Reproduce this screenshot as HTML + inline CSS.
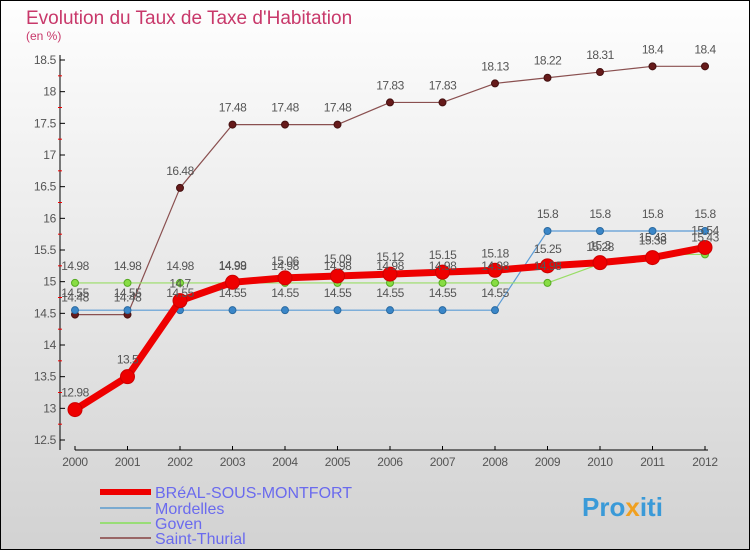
<!DOCTYPE html>
<html><head><meta charset="utf-8"><style>
body{margin:0}
svg text{font-family:"Liberation Sans",sans-serif}
</style></head><body>
<svg id="c" width="750" height="550" xmlns="http://www.w3.org/2000/svg">
<defs><linearGradient id="bg" x1="0" y1="0" x2="0" y2="1"><stop offset="0" stop-color="#fefefe"/><stop offset="1" stop-color="#d2d2d2"/></linearGradient></defs>
<rect x="0.5" y="0.5" width="749" height="549" fill="url(#bg)" stroke="#000"/>
<text x="26" y="24" font-size="19" font-weight="normal" fill="#c8386a">Evolution du Taux de Taxe d'Habitation</text>
<text x="26" y="40" font-size="12" fill="#c8386a">(en %)</text>
<g id="axes"></g><g id="series"></g><g id="labels"></g>
<g>
<line x1="100" y1="492" x2="151" y2="492" stroke="#ee0000" stroke-width="6"/>
<text x="155" y="498" font-size="16" fill="#6a6aee">BRéAL-SOUS-MONTFORT</text>
<line x1="100" y1="508" x2="151" y2="508" stroke="#7aaad0" stroke-width="2"/>
<text x="155" y="514" font-size="16" fill="#6a6aee">Mordelles</text>
<line x1="100" y1="523" x2="151" y2="523" stroke="#99dd77" stroke-width="2"/>
<text x="155" y="529" font-size="16" fill="#6a6aee">Goven</text>
<line x1="100" y1="538" x2="151" y2="538" stroke="#996666" stroke-width="2"/>
<text x="155" y="544" font-size="16" fill="#6a6aee">Saint-Thurial</text>
</g>
<text x="582" y="516" font-size="26" font-weight="bold" fill="#3a9ad8">Pro<tspan fill="#f0a020">x</tspan>iti</text>
</svg>
<script>
const years=[2000,2001,2002,2003,2004,2005,2006,2007,2008,2009,2010,2011,2012];
const yTicks=[12.5,13,13.5,14,14.5,15,15.5,16,16.5,17,17.5,18,18.5];
const breal=[12.98,13.5,14.7,14.99,15.06,15.09,15.12,15.15,15.18,15.25,15.3,15.38,15.54];
const mordelles=[14.55,14.55,14.55,14.55,14.55,14.55,14.55,14.55,14.55,15.8,15.8,15.8,15.8];
const goven=[14.98,14.98,14.98,14.98,14.98,14.98,14.98,14.98,14.98,14.98,15.28,15.43,15.43];
const thurial=[14.48,14.48,16.48,17.48,17.48,17.48,17.83,17.83,18.13,18.22,18.31,18.4,18.4];
const NS='http://www.w3.org/2000/svg';
function X(i){return 75+i*52.5;}
function Y(v){return 440-(v-12.5)*63.333;}
function mk(t,a,p){const e=document.createElementNS(NS,t);for(const k in a)e.setAttribute(k,a[k]);p.appendChild(e);return e;}
const ax=document.getElementById('axes'),se=document.getElementById('series'),lb=document.getElementById('labels');
let yl=mk('line',{x1:60,y1:55,x2:60,y2:450,stroke:'#000'},ax);


let xl=mk('line',{x1:75,y1:450,x2:708,y2:450,stroke:'#000'},ax);


yTicks.forEach(v=>{const y=Y(v);
mk('line',{x1:60,y1:y,x2:65,y2:y,stroke:'#000'},ax);
if(v<18.5)mk('line',{x1:58,y1:Y(v+0.25),x2:62,y2:Y(v+0.25),stroke:'#e00'},ax);
const t=mk('text',{x:56,y:y+4,'font-size':12,fill:'#555','text-anchor':'end','letter-spacing':'-0.3'},ax);t.textContent=String(v);

});
years.forEach((yr,i)=>{mk('line',{x1:X(i),y1:446,x2:X(i),y2:450,stroke:'#000'},ax);
const t=mk('text',{x:X(i),y:466,'font-size':12,fill:'#555','text-anchor':'middle','letter-spacing':'-0.3'},ax);t.textContent=yr;

});
function draw(d,name,col,w,r,dot,dotStroke){
const pts=d.map((v,i)=>X(i)+','+Y(v)).join(' ');
const pl=mk('polyline',{points:pts,fill:'none',stroke:col,'stroke-width':w,'stroke-linejoin':'round'},se);


d.forEach((v,i)=>{const c=mk('circle',{cx:X(i),cy:Y(v),r:r,fill:dot,stroke:dotStroke,'stroke-width':1},se);


const t=mk('text',{x:X(i),y:Y(v)-13,'font-size':12,fill:'#555','text-anchor':'middle','letter-spacing':'-0.5'},lb);t.textContent=String(v);

});}
draw(thurial,'saint-thurial','#8a5050',1.2,3.5,'#661a1a','#441010');
draw(mordelles,'mordelles','#5b9bd5',1.2,3.5,'#3a86c8','#2a6aa0');
draw(goven,'goven','#99dd66',1.2,3.5,'#88dd44','#55aa22');
draw(breal,'breal','#ee0000',7,7,'#ee0000','#cc0000');
</script>
</body></html>
